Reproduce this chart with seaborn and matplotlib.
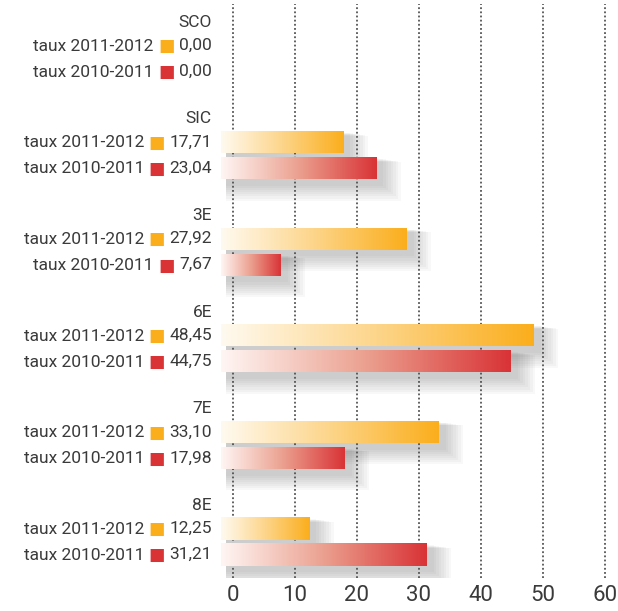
import numpy as np
import pandas as pd
import matplotlib
matplotlib.use("Agg")
import matplotlib.pyplot as plt
import seaborn as sns
from matplotlib.colors import LinearSegmentedColormap
from matplotlib.patches import Rectangle

groups = ["SCO", "SIC", "3E", "6E", "7E", "8E"]
taux_2011_2012 = [0.00, 17.71, 27.92, 48.45, 33.10, 12.25]
taux_2010_2011 = [0.00, 23.04, 7.67, 44.75, 17.98, 31.21]
series = ["taux 2011-2012", "taux 2010-2011"]
xticks = [0, 10, 20, 30, 40, 50, 60]

orange = "#FBAE1C"
red = "#D93336"
text_col = "#3a3a3a"

df = pd.DataFrame({
    "groupe": groups * 2,
    "taux": taux_2011_2012 + taux_2010_2011,
    "serie": [series[0]] * len(groups) + [series[1]] * len(groups),
})


def fmt(v):
    return f"{v:.2f}".replace(".", ",")


def main():
    sns.set_style("white")
    plt.rcParams["font.family"] = ["Roboto", "DejaVu Sans"]

    fig = plt.figure(figsize=(6.18, 6.11), dpi=100)
    ax = fig.add_axes([220.6 / 618, 1 - 578 / 611, 1 - 220.6 / 618, 574 / 611])

    sns.barplot(data=df, y="groupe", x="taux", hue="serie", order=groups,
                hue_order=series, palette=[orange, red], width=0.54, gap=0.15,
                orient="h", legend=False, ax=ax, zorder=3)

    cmaps = [LinearSegmentedColormap.from_list("o", ["#FFFAF0", "#FDD58A", orange]),
             LinearSegmentedColormap.from_list("r", ["#FFF6F4", "#EBA08F", red])]
    grad = np.linspace(0, 1, 256).reshape(1, -1)

    bars = list(ax.patches)
    for k, p in enumerate(bars):
        s = k // len(groups)
        w = p.get_width()
        if w <= 0:
            p.set_visible(False)
            continue
        p.set_x(-2)
        p.set_width(w + 2)
        y0, h = p.get_y(), p.get_height()
        # soft shadow
        for j in range(8):
            d = 0.4 * (j + 1)
            ax.add_patch(Rectangle((-2 + 0.8, y0 + 0.02 + 0.004 * j), w + 2 + d, h + 0.018 * (j + 1) + 0.03,
                                   facecolor="#555555", alpha=0.04, lw=0, zorder=2))
        p.set_facecolor("none")
        p.set_edgecolor("none")
        im = ax.imshow(grad, cmap=cmaps[s], aspect="auto",
                       extent=(-2, w, y0 + h, y0), zorder=3.5, interpolation="bilinear")
        im.set_clip_path(p)

    ax.set_xlim(-2, 62.1)
    ylim_top = (4 - 58.5) / 96.6
    ylim_bot = (578 - 58.5) / 96.6
    ax.set_ylim(ylim_bot, ylim_top)

    ax.set_xticks(xticks)
    ax.set_xticklabels([str(t) for t in xticks], fontsize=16, color=text_col)
    ax.tick_params(axis="x", length=0, pad=5)
    ax.set_yticks([])
    ax.set_xlabel("")
    ax.set_ylabel("")
    for sp in ax.spines.values():
        sp.set_visible(False)
    ax.xaxis.grid(True, color="#555555", linestyle=(0, (1, 1.3)), linewidth=1.3)
    ax.set_axisbelow(True)

    # left labels
    xl = -3.4
    vals = [taux_2011_2012, taux_2010_2011]
    cols = [orange, red]
    for i, g in enumerate(groups):
        ax.text(xl, i - 0.375, g, ha="right", va="center", fontsize=12.5,
                color=text_col, clip_on=False)
        for s in range(2):
            yy = i + (-0.135 if s == 0 else 0.135)
            t = ax.text(xl, yy, fmt(vals[s][i]), ha="right", va="center",
                        fontsize=12.5, color=text_col, clip_on=False)
            sq = ax.annotate("■", xy=(0, 0.45), xycoords=t, xytext=(-3, 0),
                             textcoords="offset points", ha="right", va="center",
                             fontsize=12.5, color=cols[s], family="DejaVu Sans")
            ax.annotate(series[s], xy=(0, 0.5), xycoords=sq, xytext=(-3.5, 0),
                        textcoords="offset points", ha="right", va="center",
                        fontsize=12.5, color=text_col)

    fig.savefig("out.png", dpi=100)


if __name__ == "__main__":
    main()
